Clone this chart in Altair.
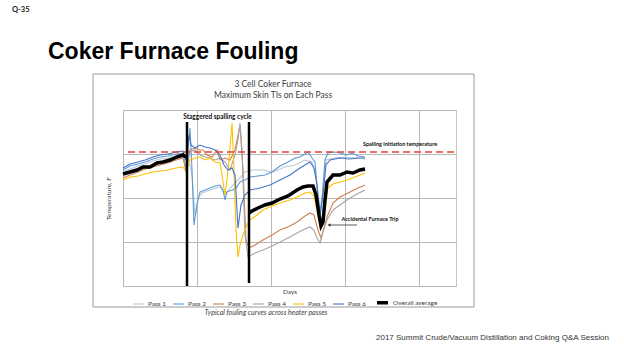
import altair as alt
import pandas as pd
import numpy as np

# ---------------- data ----------------
series_names = ["Pass 1", "Pass 2", "Pass 3", "Pass 4", "Pass 5", "Pass 6", "Overall average"]
series_colors = ["#b9c6d6", "#5b9bd5", "#d0804e", "#a5a5a5", "#ffc000", "#4472c4", "#000000"]

pass1_days = [0, 7, 15, 22, 30, 37, 45, 53, 60, 63, 65, 69, 72, 75, 79, 87, 97, 102, 107, 115, 122, 130, 140, 150, 162, 172, 182, 189, 193, 197, 200, 203, 212, 222, 232, 242]
pass1_temp = [1128, 1134, 1140, 1144, 1150, 1154, 1156, 1160, 1162, 1142, 1162, 1122, 1042, 1076, 1086, 1092, 1098, 1082, 1096, 1112, 1128, 1132, 1132, 1128, 1138, 1142, 1152, 1148, 1122, 1052, 1092, 1152, 1156, 1158, 1156, 1154]

pass2_days = [0, 7, 15, 22, 30, 37, 45, 53, 60, 63, 65, 67, 69, 71, 74, 77, 82, 87, 92, 97, 100, 102, 104, 109, 113, 117, 122, 127, 135, 142, 149, 157, 165, 172, 177, 182, 185, 189, 192, 195, 197, 199, 202, 205, 212, 217, 224, 229, 235, 242]
pass2_temp = [1132, 1140, 1144, 1148, 1154, 1158, 1160, 1164, 1166, 1128, 1172, 1216, 1132, 1022, 1062, 1088, 1092, 1096, 1100, 1102, 1092, 1072, 1088, 1092, 1096, 1108, 1112, 1118, 1120, 1122, 1128, 1140, 1148, 1156, 1158, 1164, 1168, 1156, 1148, 1072, 1038, 1072, 1152, 1166, 1168, 1166, 1162, 1166, 1160, 1158]

pass3_days = [0, 7, 15, 22, 30, 37, 45, 53, 60, 63, 67, 72, 77, 80, 84, 89, 94, 97, 102, 107, 112, 117, 120, 123, 126, 132, 140, 149, 157, 167, 174, 182, 187, 191, 195, 198, 201, 204, 210, 217, 227, 235, 242]
pass3_temp = [1116, 1122, 1128, 1134, 1138, 1142, 1146, 1152, 1156, 1132, 1172, 1176, 1172, 1172, 1162, 1158, 1172, 1152, 1156, 1152, 1172, 1222, 1132, 992, 976, 982, 992, 1002, 1012, 1020, 1028, 1040, 1046, 1042, 1012, 996, 1016, 1038, 1066, 1078, 1088, 1096, 1102]

pass4_days = [0, 7, 15, 22, 30, 37, 45, 53, 60, 63, 67, 72, 77, 82, 87, 92, 97, 102, 107, 112, 115, 117, 119, 122, 125, 132, 140, 149, 157, 167, 174, 182, 187, 191, 194, 197, 200, 204, 210, 217, 224, 232, 242]
pass4_temp = [1122, 1128, 1132, 1136, 1142, 1146, 1150, 1156, 1160, 1136, 1168, 1172, 1162, 1158, 1156, 1152, 1156, 1148, 1132, 1162, 1192, 1226, 1172, 1002, 958, 966, 972, 980, 988, 998, 1006, 1014, 1018, 1012, 996, 986, 1008, 1032, 1052, 1062, 1072, 1082, 1092]

pass5_days = [0, 7, 15, 22, 30, 37, 45, 53, 60, 63, 67, 72, 77, 82, 87, 92, 97, 99, 102, 104, 106, 109, 111, 113, 115, 117, 120, 124, 127, 134, 140, 149, 157, 167, 174, 182, 187, 191, 195, 198, 201, 205, 210, 217, 224, 232, 242]
pass5_temp = [1112, 1118, 1120, 1124, 1128, 1130, 1132, 1136, 1138, 1128, 1152, 1156, 1158, 1152, 1156, 1148, 1146, 1122, 1082, 1112, 1152, 1226, 1132, 1012, 958, 982, 1002, 1022, 1032, 1042, 1052, 1060, 1066, 1072, 1078, 1086, 1088, 1080, 1042, 1016, 1042, 1096, 1104, 1108, 1112, 1118, 1126]

pass6_days = [0, 7, 15, 22, 30, 37, 45, 53, 60, 63, 66, 68, 72, 77, 82, 87, 92, 97, 101, 105, 109, 112, 115, 118, 122, 127, 137, 147, 157, 167, 177, 187, 191, 194, 197, 200, 203, 207, 217, 227, 235, 242]
pass6_temp = [1136, 1144, 1148, 1152, 1158, 1162, 1164, 1168, 1170, 1152, 1202, 1182, 1176, 1182, 1178, 1176, 1172, 1162, 1142, 1132, 1136, 1122, 1016, 1062, 1082, 1092, 1096, 1102, 1112, 1122, 1136, 1148, 1136, 1102, 1042, 1082, 1142, 1152, 1156, 1154, 1156, 1156]

avg_days_before = [0, 7, 14, 20, 27, 34, 40, 47, 54, 60, 63]
avg_temp_before = [1124, 1128, 1132, 1138, 1138, 1146, 1148, 1152, 1158, 1162, 1158]
avg_days_after = [126, 129, 135, 142, 149, 157, 165, 174, 180, 185, 190, 193, 196, 198, 200, 202, 204, 210, 217, 224, 230, 237, 242]
avg_temp_after = [1046, 1050, 1056, 1062, 1066, 1074, 1080, 1092, 1098, 1100, 1100, 1082, 1042, 1020, 1028, 1072, 1108, 1122, 1122, 1128, 1126, 1132, 1134]

spalling_temp = 1168           # spalling initiation temperature (dashed red)
spall_days = [64, 126]          # staggered spalling cycle markers
spall_top = [1228, 1228]
spall_bottom = [900, 906]
trip_arrow_days = [207, 234]
trip_arrow_temp = 1022

# ---------------- build tables ----------------
rows = []
def add(name, seg, days, temps):
    for d, t in zip(days, temps):
        rows.append({"series": name, "seg": seg, "day": d, "temp": t})

add("Pass 1", "p1", pass1_days, pass1_temp)
add("Pass 2", "p2", pass2_days, pass2_temp)
add("Pass 3", "p3", pass3_days, pass3_temp)
add("Pass 4", "p4", pass4_days, pass4_temp)
add("Pass 5", "p5", pass5_days, pass5_temp)
add("Pass 6", "p6", pass6_days, pass6_temp)
add("Overall average", "a1", avg_days_before, avg_temp_before)
add("Overall average", "a2", avg_days_after, avg_temp_after)
df = pd.DataFrame(rows)

X_DOM = [0, 333]
Y_DOM = [900, 1252]
X_GRID = [float(v) for v in range(0, 334, 37)]
Y_GRID = [float(v) for v in range(900, 1253, 44)]
FONT = "Lato"
GRAY = "#404040"
GRID = "#b8b8b8"

xscale = alt.Scale(domain=X_DOM, nice=False, zero=False)
yscale = alt.Scale(domain=Y_DOM, nice=False, zero=False)

legend = alt.Legend(
    orient="none", legendX=9, legendY=185, direction="horizontal", title=None,
    symbolType="stroke", symbolSize=121, labelFont=FONT, labelFontSize=6.5,
    labelColor=GRAY, labelOffset=3, columnPadding=3, padding=0,
)

lines = alt.Chart(df).mark_line(interpolate="linear").encode(
    x=alt.X("day:Q", scale=xscale,
            axis=alt.Axis(values=X_GRID, labels=False, labelOverlap=False,
                          ticks=False, domain=False, title="Days", titlePadding=2,
                          titleFont=FONT, titleFontSize=6.5, titleFontWeight="normal",
                          titleColor=GRAY, gridColor=GRID, gridWidth=1, gridOpacity=1)),
    y=alt.Y("temp:Q", scale=yscale,
            axis=alt.Axis(values=Y_GRID, labels=False, labelOverlap=False,
                          ticks=False, domain=False, title="Temperature, F", titlePadding=12,
                          titleFont=FONT, titleFontSize=6.5, titleFontWeight="normal",
                          titleColor=GRAY, gridColor=GRID, gridWidth=1, gridOpacity=1)),
    color=alt.Color("series:N", scale=alt.Scale(domain=series_names, range=series_colors),
                    legend=legend),
    strokeWidth=alt.StrokeWidth("series:N",
                                scale=alt.Scale(type="ordinal", domain=series_names,
                                                range=[1.1, 1.1, 1.1, 1.1, 1.1, 1.1, 3.5]),
                                legend=legend),
    detail="seg:N",
    order=alt.Order("day:Q"),
)

thresh = alt.Chart(pd.DataFrame({"temp": [spalling_temp], "d0": [5], "d1": [333]})).mark_rule(
    color="#e8403a", strokeDash=[7, 4], strokeWidth=1.5
).encode(x=alt.X("d0:Q", scale=xscale), x2="d1:Q", y=alt.Y("temp:Q", scale=yscale))

spall = alt.Chart(pd.DataFrame({"day": spall_days, "top": spall_top, "bot": spall_bottom})).mark_rule(
    color="#000000", strokeWidth=2.5
).encode(x=alt.X("day:Q", scale=xscale), y=alt.Y("top:Q", scale=yscale), y2="bot:Q")

arrow_line = alt.Chart(pd.DataFrame({"d0": [trip_arrow_days[0]], "d1": [trip_arrow_days[1]], "temp": [trip_arrow_temp]})).mark_rule(
    color="#333333", strokeWidth=0.8
).encode(x=alt.X("d0:Q", scale=xscale), x2="d1:Q", y=alt.Y("temp:Q", scale=yscale))

arrow_head = alt.Chart(pd.DataFrame({"day": [trip_arrow_days[0] - 1], "temp": [trip_arrow_temp]})).mark_point(
    shape="triangle-left", filled=True, color="#333333", size=12, opacity=1
).encode(x=alt.X("day:Q", scale=xscale), y=alt.Y("temp:Q", scale=yscale))

annot = pd.DataFrame({
    "label": ["Staggered spalling cycle", "Spalling initiation temperature", "Accidental Furnace Trip"],
    "day": [94.5, 277, 247],
    "temp": [1238, 1184, 1034],
    "size": [6.5, 5.5, 5.5],
})
annot_text = alt.Chart(annot).mark_text(font=FONT, fontWeight="bold", color="#111111",
                                        align="center", baseline="middle").encode(
    x=alt.X("day:Q", scale=xscale), y=alt.Y("temp:Q", scale=yscale), text="label:N",
    size=alt.Size("size:Q", scale=None, legend=None))

def txt(s, x, y, **kw):
    return alt.Chart(pd.DataFrame({"t": [s]})).mark_text(**kw).encode(
        text="t:N", x=alt.value(x), y=alt.value(y))

box = alt.Chart(pd.DataFrame({"a": [0]})).mark_rect(fill=None, stroke="#9a9a9a", strokeWidth=1).encode(
    x=alt.value(-30), x2=alt.value(351), y=alt.value(-36), y2=alt.value(197))

title1 = txt("3 Cell Coker Furnace", 150, -26, font=FONT, fontSize=8.5, color=GRAY, align="center", baseline="middle")
title2 = txt("Maximum Skin TIs on Each Pass", 150, -15, font=FONT, fontSize=8.5, color=GRAY, align="center", baseline="middle")
caption = txt("Typical fouling curves across heater passes", 143, 203, font=FONT, fontSize=7, fontStyle="italic", color=GRAY, align="center", baseline="middle")
slide_title = txt("Coker Furnace Fouling", -75, -51, font="Liberation Sans", fontSize=23, fontWeight="bold", color="#000000", align="left", baseline="alphabetic")
qnum = txt("Q-35", -111, -98.5, font=FONT, fontSize=7.5, fontWeight="bold", color="#222222", align="left", baseline="alphabetic")
footer = txt("2017 Summit Crude/Vacuum Distillation and Coking Q&A Session", 253, 230, font="Liberation Sans", fontSize=8, color="#333333", align="left", baseline="alphabetic")

chart = alt.layer(
    box, lines, thresh, spall, arrow_line, arrow_head, annot_text,
    title1, title2, caption, slide_title, qnum, footer
).properties(
    width=333, height=176,
    autosize=alt.AutoSizeParams(type="none"),
    padding={"left": 123, "top": 110, "right": 168, "bottom": 65},
    background="#ffffff",
).configure_view(stroke="#c4c4c4", strokeWidth=1)

chart.save("out.html", embed_options={"renderer": "svg", "actions": False})
